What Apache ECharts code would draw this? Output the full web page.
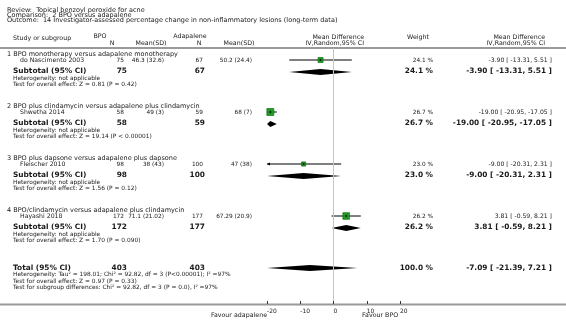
<!DOCTYPE html>
<html><head><meta charset="utf-8">
<script src="https://cdn.jsdelivr.net/npm/echarts@6/dist/echarts.min.js"></script>
<style>html,body{margin:0;padding:0;background:#fff}#c{width:566px;height:328px}</style>
</head><body><div id="c"></div>
<script>
// ---------- data ----------
const reviewTitle = 'Review:  Topical benzoyl peroxide for acne';
const comparisonTitle = 'Comparison:  2 BPO versus adapalene';
const outcomeTitle = 'Outcome:  14 Investigator-assessed percentage change in non-inflammatory lesions (long-term data)';
const groupTitles = [
  '1 BPO monotherapy versus adapalene monotherapy',
  '2 BPO plus clindamycin versus adapalene plus clindamycin',
  '3 BPO plus dapsone versus adapalene plus dapsone',
  '4 BPO/clindamycin versus adapalene plus clindamycin'
];
const studyNames = ['do Nascimento 2003', 'Shwetha 2014', 'Fleischer 2010', 'Hayashi 2018'];
const bpoN = [75, 58, 98, 172];
const bpoMeanSD = ['46.3 (32.6)', '49 (3)', '38 (43)', '71.1 (21.02)'];
const adaN = [67, 59, 100, 177];
const adaMeanSD = ['50.2 (24.4)', '68 (7)', '47 (38)', '67.29 (20.9)'];
const meanDiff = [-3.90, -19.00, -9.00, 3.81];
const ciLow = [-13.31, -20.95, -20.31, -0.59];
const ciHigh = [5.51, -17.05, 2.31, 8.21];
const weights = [24.1, 26.7, 23.0, 26.2];
const heterogeneityNotes = ['Heterogeneity: not applicable', 'Heterogeneity: not applicable', 'Heterogeneity: not applicable', 'Heterogeneity: not applicable'];
const overallEffectNotes = [
  'Test for overall effect: Z = 0.81 (P = 0.42)',
  'Test for overall effect: Z = 19.14 (P < 0.00001)',
  'Test for overall effect: Z = 1.56 (P = 0.12)',
  'Test for overall effect: Z = 1.70 (P = 0.090)'
];
const totalN = [403, 403];
const totalEffect = [-7.09, -21.39, 7.21]; // MD, low, high
const totalWeight = 100.0;
const totalNotes = [
  'Heterogeneity: Tau\u00b2 = 198.01; Chi\u00b2 = 92.82, df = 3 (P<0.00001); I\u00b2 =97%',
  'Test for overall effect: Z = 0.97 (P = 0.33)',
  'Test for subgroup differences: Chi\u00b2 = 92.82, df = 3 (P = 0.0), I\u00b2 =97%'
];
const xTicks = [-20, -10, 0, 10, 20];
const favourLabels = ['Favour adapalene', 'Favour BPO'];

// ---------- layout ----------
const FONT = 'DejaVu Sans';
const TXT = '#1a1a1a';
const GROUP_STEP = 13;       // y units per subgroup
const X_MIN = -20, X_MAX = 20;
const fmt2 = v => v.toFixed(2);
const ciText = (m, l, h) => `${fmt2(m)} [ ${fmt2(l)}, ${fmt2(h)} ]`;

const textRows = [];
const cell = (text, x, align, size, bold) => ({text, x, align, size, bold});
studyNames.forEach((name, g) => {
  const base = g * GROUP_STEP;
  textRows.push({y: base - 1.3, cells: [cell(groupTitles[g], 7, 'left', 6.5, false)]});
  textRows.push({y: base, cells: [
    cell(name, 20, 'left', 6.2, false),
    cell(String(bpoN[g]), 124, 'right', 5.8, false),
    cell(bpoMeanSD[g], 164, 'right', 5.8, false),
    cell(String(adaN[g]), 203, 'right', 5.8, false),
    cell(adaMeanSD[g], 252, 'right', 5.8, false),
    cell(weights[g].toFixed(1) + ' %', 433, 'right', 5.8, false),
    cell(ciText(meanDiff[g], ciLow[g], ciHigh[g]), 552, 'right', 6.1, false)
  ]});
  textRows.push({y: base + 2.75, cells: [
    cell('Subtotal (95% CI)', 13, 'left', 7.4, true),
    cell(String(bpoN[g]), 127, 'right', 7.4, true),
    cell(String(adaN[g]), 205, 'right', 7.4, true),
    cell(weights[g].toFixed(1) + ' %', 433, 'right', 7.4, true),
    cell(ciText(meanDiff[g], ciLow[g], ciHigh[g]), 552, 'right', 7.4, true)
  ]});
  textRows.push({y: base + 4.55, cells: [cell(heterogeneityNotes[g], 13, 'left', 5.9, false)]});
  textRows.push({y: base + 6.05, cells: [cell(overallEffectNotes[g], 13, 'left', 5.9, false)]});
});
const totalY = 4 * GROUP_STEP;
textRows.push({y: totalY, cells: [
  cell('Total (95% CI)', 13, 'left', 7.4, true),
  cell(String(totalN[0]), 127, 'right', 7.4, true),
  cell(String(totalN[1]), 205, 'right', 7.4, true),
  cell(totalWeight.toFixed(1) + ' %', 433, 'right', 7.4, true),
  cell(ciText(totalEffect[0], totalEffect[1], totalEffect[2]), 552, 'right', 7.4, true)
]});
totalNotes.forEach((t, i) => textRows.push({y: totalY + 1.7 + i * 1.6, cells: [cell(t, 13, 'left', 5.9, false)]}));

const studyData = studyNames.map((_, g) => [meanDiff[g], ciLow[g], ciHigh[g], weights[g], g * GROUP_STEP]);
const diamondData = studyNames.map((_, g) => [meanDiff[g], ciLow[g], ciHigh[g], g * GROUP_STEP + 3]);
diamondData.push([totalEffect[0], totalEffect[1], totalEffect[2], totalY]);

function txtEl(text, x, y, align, size, bold, va) {
  return {type: 'text', x, y, silent: true,
    style: {text, fill: TXT, fontSize: size, fontFamily: FONT, fontWeight: bold ? 'bold' : 'normal',
      align, textAlign: align, verticalAlign: va || 'middle', textVerticalAlign: va || 'middle'}};
}

const chart = echarts.init(document.getElementById('c'), null, {renderer: 'canvas'});
const graphics = [
  txtEl(reviewTitle, 7, 10, 'left', 6.5, false),
  txtEl(comparisonTitle, 7, 15, 'left', 6.5, false),
  txtEl(outcomeTitle, 7, 20, 'left', 6.5, false),
  txtEl('Study or subgroup', 13, 38, 'left', 6.3, false),
  txtEl('BPO', 100, 36.5, 'center', 6.3, false),
  txtEl('N', 112, 43, 'center', 6.3, false),
  txtEl('Mean(SD)', 151, 43, 'center', 6.3, false),
  txtEl('Adapalene', 190, 36.5, 'center', 6.3, false),
  txtEl('N', 199, 43, 'center', 6.3, false),
  txtEl('Mean(SD)', 239, 43, 'center', 6.3, false),
  txtEl('Mean Difference', 364, 37.5, 'right', 6.3, false),
  txtEl('IV,Random,95% CI', 364, 43, 'right', 6.3, false),
  txtEl('Weight', 418, 37.5, 'center', 6.3, false),
  txtEl('Mean Difference', 545, 37.5, 'right', 6.3, false),
  txtEl('IV,Random,95% CI', 545, 43, 'right', 6.3, false),
  {type: 'line', silent: true, shape: {x1: 0, y1: 48, x2: 566, y2: 48}, style: {stroke: '#9a9a9a', lineWidth: 2}},
  {type: 'line', silent: true, shape: {x1: 0, y1: 304.5, x2: 566, y2: 304.5}, style: {stroke: '#9a9a9a', lineWidth: 2}},
  txtEl(favourLabels[0], 267, 315, 'right', 6.3, false),
  txtEl(favourLabels[1], 362, 315, 'left', 6.3, false)
];

chart.setOption({
  animation: false,
  backgroundColor: '#fff',
  grid: {left: 267, right: 166, top: 48, bottom: 24, containLabel: false},
  xAxis: {type: 'value', min: X_MIN, max: X_MAX, interval: 10, position: 'bottom', z: 10,
    axisLine: {show: false, onZero: false},
    axisTick: {show: true, inside: true, length: 3, lineStyle: {color: '#333', width: 1}},
    splitLine: {show: false},
    axisLabel: {fontSize: 6, fontFamily: FONT, color: TXT, align: 'left', margin: 4,
      formatter: v => xTicks.includes(v) ? String(v) : ''}},
  yAxis: {type: 'value', inverse: true, min: -3, max: 61, show: false},
  graphic: graphics,
  series: [
    {type: 'custom', name: 'text', data: textRows.map((r, i) => [0, r.y, i]), silent: true,
      renderItem(params, api) {
        const r = textRows[params.dataIndex];
        const y = api.coord([0, r.y])[1];
        return {type: 'group', children: r.cells.map(c => txtEl(c.text, c.x, y, c.align, c.size, c.bold))};
      },
      markLine: {silent: true, symbol: 'none', label: {show: false},
        lineStyle: {color: '#c4c4c4', width: 1, type: 'solid'}, data: [{xAxis: 0}]}
    },
    {type: 'custom', name: 'studies', data: studyData, silent: true,
      renderItem(params, api) {
        const md = api.value(0), lo = api.value(1), hi = api.value(2), w = api.value(3), y = api.value(4);
        const pL = api.coord([Math.max(lo, X_MIN), y]);
        const pR = api.coord([Math.min(hi, X_MAX), y]);
        const pM = api.coord([md, y]);
        const ch = [{type: 'line', shape: {x1: pL[0], y1: pL[1], x2: pR[0], y2: pR[1]}, style: {stroke: '#000', lineWidth: 1}}];
        if (lo < X_MIN) ch.push({type: 'polygon', shape: {points: [[pL[0], pL[1]], [pL[0] + 3, pL[1] - 1.5], [pL[0] + 3, pL[1] + 1.5]]}, style: {fill: '#000'}});
        if (hi > X_MAX) ch.push({type: 'polygon', shape: {points: [[pR[0], pR[1]], [pR[0] - 3, pR[1] - 1.5], [pR[0] - 3, pR[1] + 1.5]]}, style: {fill: '#000'}});
        const s = 0.75 * w - 13;
        ch.push({type: 'rect', shape: {x: pM[0] - s / 2, y: pM[1] - s / 2, width: s, height: s}, style: {fill: '#1f9a1f', stroke: '#0a6a0a', lineWidth: 0.6}});
        ch.push({type: 'rect', shape: {x: pM[0] - 0.8, y: pM[1] - 0.8, width: 1.6, height: 1.6}, style: {fill: '#000'}});
        return {type: 'group', children: ch};
      }
    },
    {type: 'custom', name: 'diamonds', data: diamondData, silent: true,
      renderItem(params, api) {
        const md = api.value(0), lo = api.value(1), hi = api.value(2), y = api.value(3);
        const pL = api.coord([Math.max(lo, X_MIN), y]);
        const pR = api.coord([Math.min(hi, X_MAX), y]);
        const pM = api.coord([md, y]);
        const h = 3;
        return {type: 'polygon', shape: {points: [[pL[0], pL[1]], [pM[0], pM[1] - h], [pR[0], pR[1]], [pM[0], pM[1] + h]]}, style: {fill: '#000'}};
      }
    }
  ]
});
</script></body></html>
